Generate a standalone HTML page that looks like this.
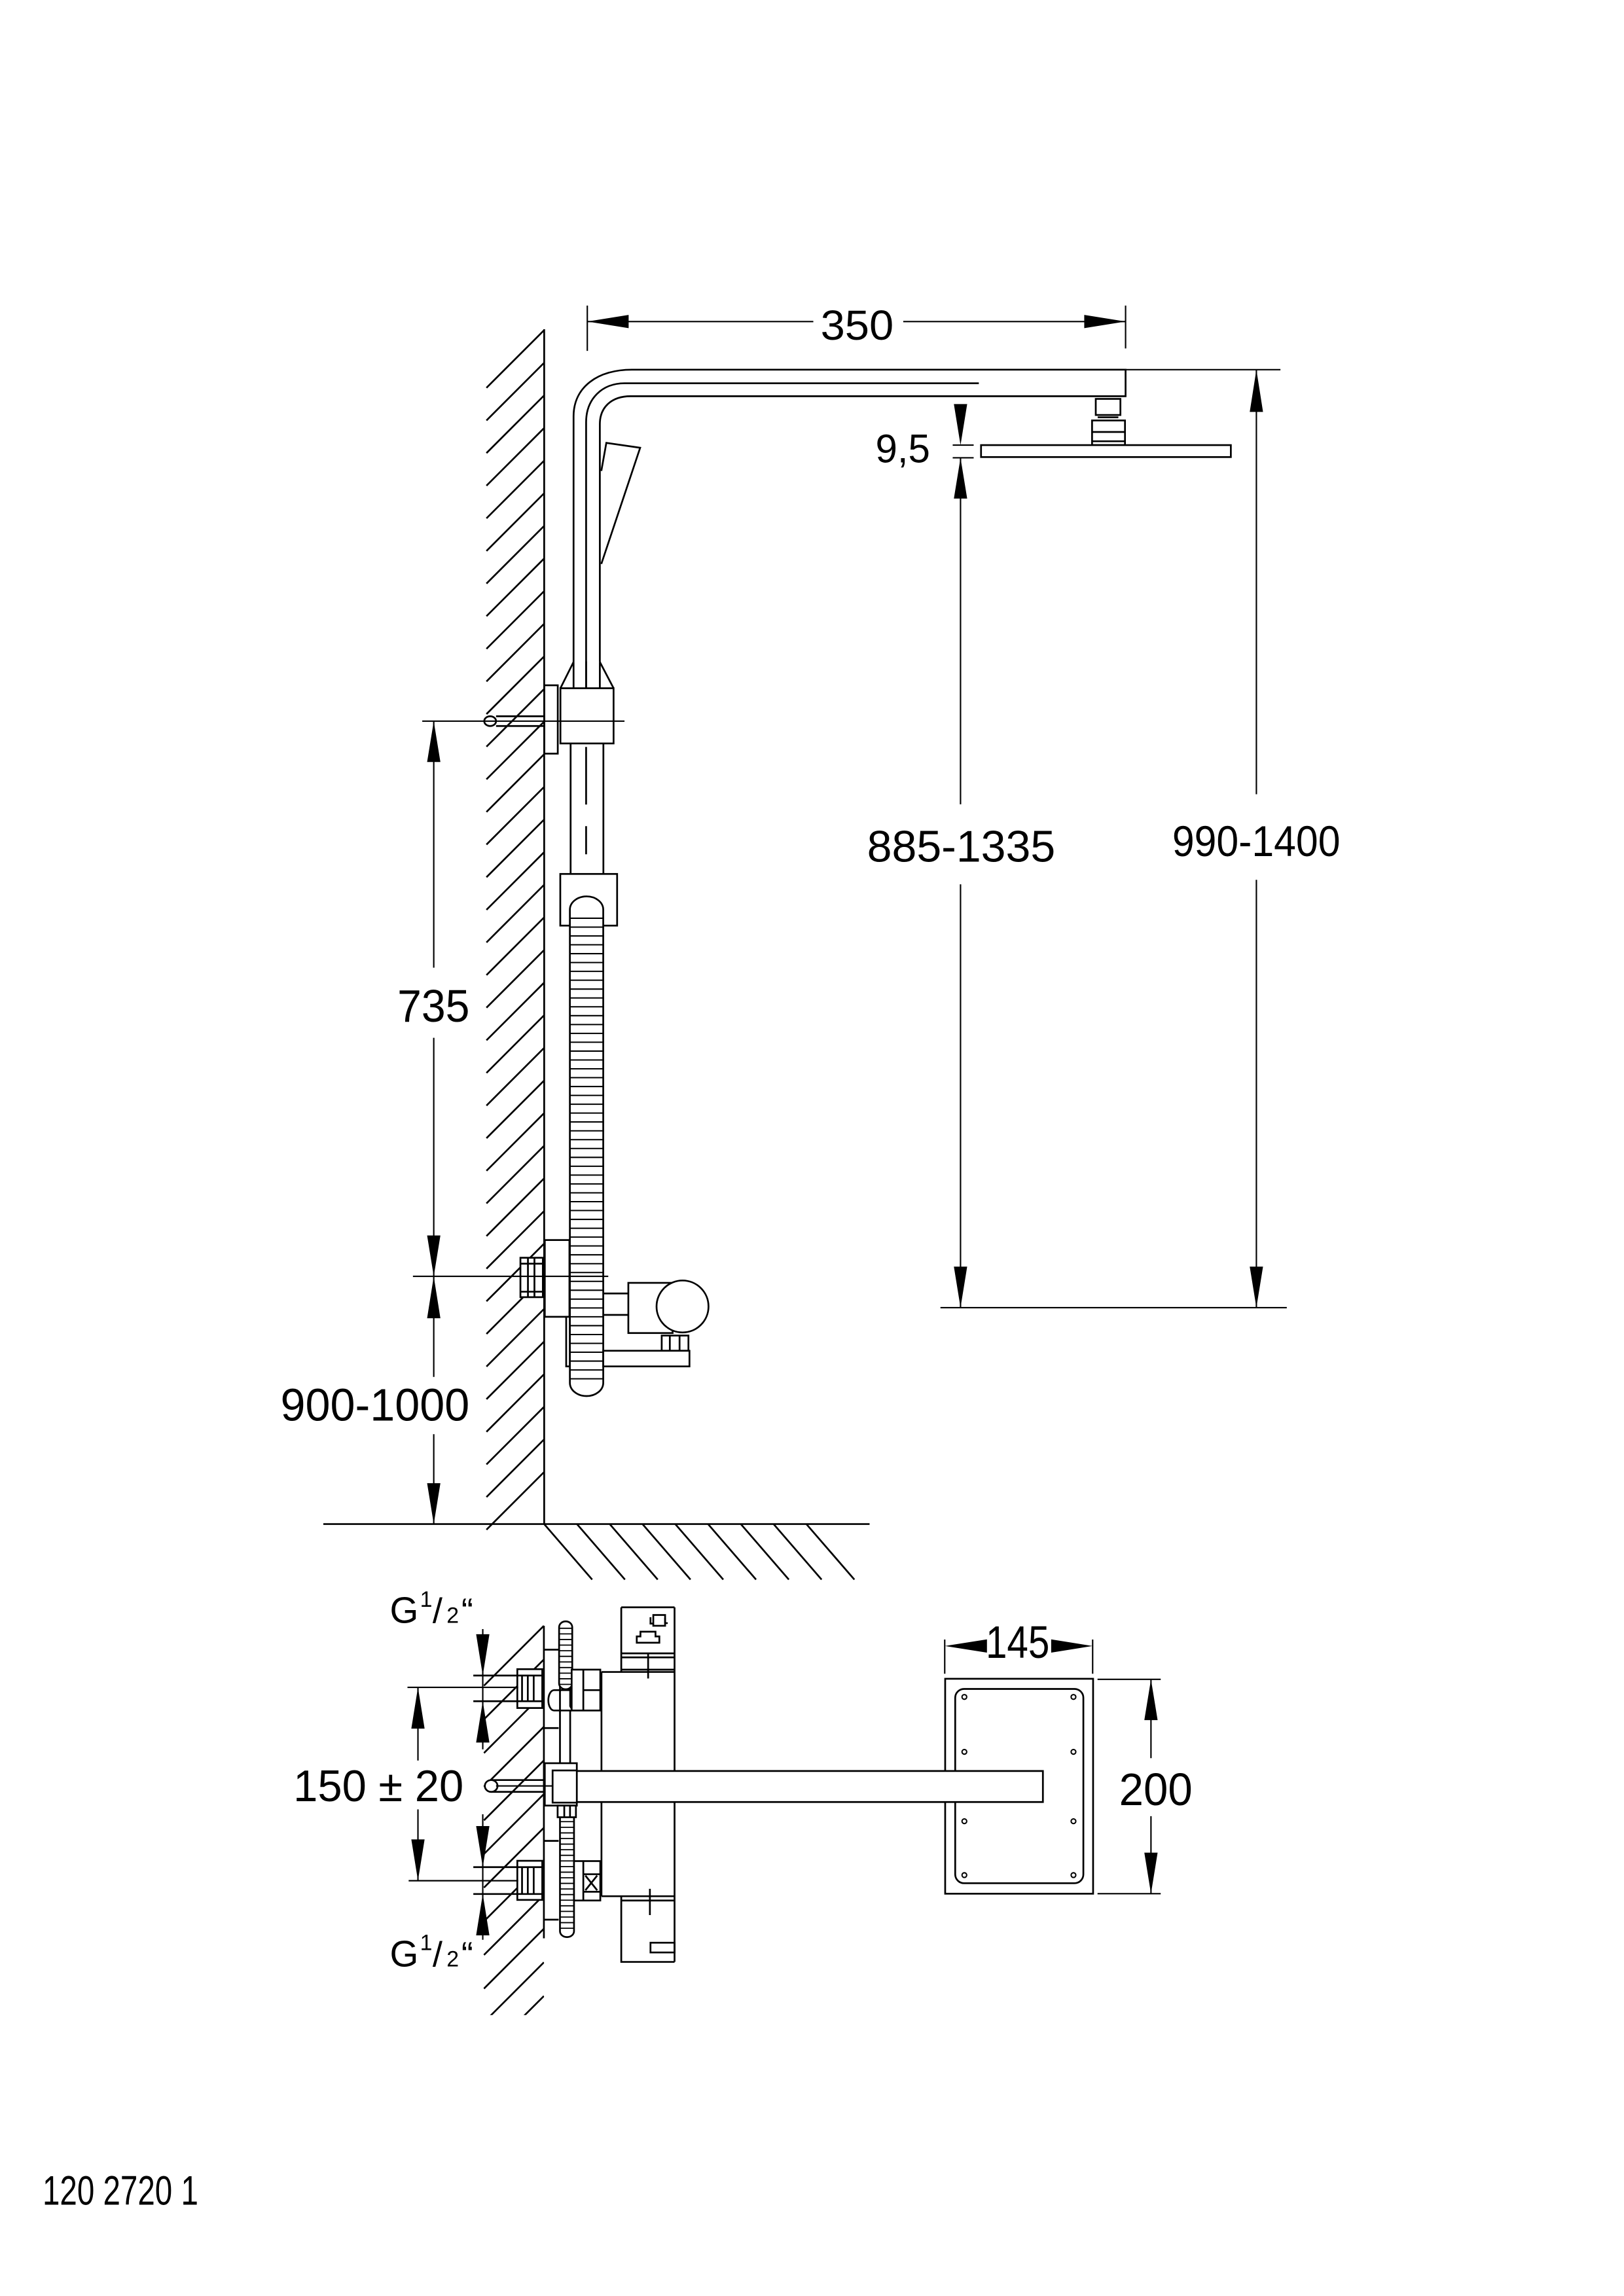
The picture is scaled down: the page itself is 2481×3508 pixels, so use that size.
<!DOCTYPE html>
<html><head><meta charset="utf-8"><style>
html,body{margin:0;padding:0;background:#fff;}
svg{display:block;}
text{font-family:"Liberation Sans",sans-serif;fill:#000;}
</style></head><body>
<svg xmlns="http://www.w3.org/2000/svg" width="2481" height="3508" viewBox="0 0 1100 1555.3">
<defs>
<clipPath id="lc"><rect x="327.5" y="1101" width="41" height="264"/></clipPath>
</defs>
<rect x="0" y="0" width="1100" height="1555.3" fill="#fff"/>
<g fill="none" stroke="#000" stroke-width="1.2">
<path d="M368.5,223.7l-39,39M368.5,245.8l-39,39M368.5,267.9l-39,39M368.5,290l-39,39M368.5,312.1l-39,39M368.5,334.2l-39,39M368.5,356.3l-39,39M368.5,378.4l-39,39M368.5,400.5l-39,39M368.5,422.6l-39,39M368.5,444.7l-39,39M368.5,466.8l-39,39M368.5,488.9l-39,39M368.5,511l-39,39M368.5,533.1l-39,39M368.5,555.2l-39,39M368.5,577.3l-39,39M368.5,599.4l-39,39M368.5,621.5l-39,39M368.5,643.6l-39,39M368.5,665.7l-39,39M368.5,687.8l-39,39M368.5,709.9l-39,39M368.5,732l-39,39M368.5,754.1l-39,39M368.5,776.2l-39,39M368.5,798.3l-39,39M368.5,820.4l-39,39M368.5,842.5l-39,39M368.5,864.6l-39,39M368.5,886.7l-39,39M368.5,908.8l-39,39M368.5,930.9l-39,39M368.5,953l-39,39M368.5,975.1l-39,39M368.5,997.2l-39,39"/>
<path d="M368.6,1032.4l32.5,37.6M390.8,1032.4l32.5,37.6M413,1032.4l32.5,37.6M435.2,1032.4l32.5,37.6M457.4,1032.4l32.5,37.6M479.6,1032.4l32.5,37.6M501.8,1032.4l32.5,37.6M524,1032.4l32.5,37.6M546.2,1032.4l32.5,37.6"/>
<path d="M368.6,223V1032.4M219,1032.4H589"/>

<path d="M388.5,448.4V282C388.5,262 405,250.4 428,250.4H762.4V268.4H427.7C414,268.2 406.3,276 406.3,287.3V448.4"/>
<path d="M397,466V286C397,270 408,259.6 423,259.6H663"/>
<path d="M407.3,319L410.7,300L433.6,303.3L407.3,382"/>
<path d="M388.5,448.4L379.6,466.2M406.3,448.4L415.6,466.2"/>
<rect x="379.6" y="466.2" width="36" height="37.4" fill="#fff"/>
<path d="M388.5,466.2V448.4M397,466.2V448M406.3,466.2V448.4"/>
<rect x="368.7" y="464.2" width="9.1" height="46.3" fill="#fff"/>
<path d="M336,485.2H368.7M336,491.8H368.7"/>
<ellipse cx="332" cy="488.5" rx="4" ry="3.3" fill="#fff"/>
<path d="M386.5,503.6V592M408.7,503.6V592"/>
<path d="M397,506V545M397,559.6V578.7"/>
<rect x="379.5" y="592" width="38.5" height="35" fill="#fff"/>
<rect x="369" y="840" width="16.7" height="52" fill="#fff"/>
<rect x="383.5" y="892" width="2.5" height="33.6" fill="#fff"/>
<rect x="352.5" y="852" width="15.2" height="26.7" fill="#fff"/>
<path d="M357.6,852V878.7M362,852V878.7M352.5,856H367.7M352.5,875H367.7"/>
<rect x="386" y="607.2" width="22.6" height="338.5" rx="11.3" ry="9" fill="#fff"/>
<path stroke-width="0.9" d="M386,622H408.6M386,628H408.6M386,634H408.6M386,640H408.6M386,646H408.6M386,652H408.6M386,658H408.6M386,664H408.6M386,670H408.6M386,676H408.6M386,682H408.6M386,688H408.6M386,694H408.6M386,700H408.6M386,706H408.6M386,712H408.6M386,718H408.6M386,724H408.6M386,730H408.6M386,736H408.6M386,742H408.6M386,748H408.6M386,754H408.6M386,760H408.6M386,766H408.6M386,772H408.6M386,778H408.6M386,784H408.6M386,790H408.6M386,796H408.6M386,802H408.6M386,808H408.6M386,814H408.6M386,820H408.6M386,826H408.6M386,832H408.6M386,838H408.6M386,844H408.6M386,850H408.6M386,856H408.6M386,862H408.6M386,868H408.6M386,874H408.6M386,880H408.6M386,886H408.6M386,892H408.6M386,898H408.6M386,904H408.6M386,910H408.6M386,916H408.6M386,922H408.6M386,928H408.6M386,934H408.6"/>
<path d="M408.6,876.2H425.6M408.6,890.7H425.6"/>
<rect x="425.6" y="869" width="30" height="34" fill="#fff"/>
<rect x="448.2" y="904.7" width="18.1" height="10.3" fill="#fff"/>
<path d="M453.7,904.7V915M460.3,904.7V915"/>
<rect x="408.6" y="915" width="58.4" height="10.6" fill="#fff"/>
<circle cx="462.3" cy="885" r="17.6" fill="#fff"/>

<rect x="742.2" y="270.2" width="16.7" height="10.9"/>
<path d="M743.5,282.7H757.5"/>
<rect x="739.7" y="284.8" width="22.3" height="16.7"/>
<path d="M739.7,292.6H762M739.7,298.9H762"/>
<rect x="664.5" y="301.5" width="169.2" height="8.1" fill="#fff"/>
</g>

<g fill="none" stroke="#000" stroke-width="0.95">
<path d="M397.8,207V237.7M762.4,207V236M397.8,217.8H550.9M611.8,217.8H762.4"/>
<path d="M762.4,250.4H867.3M637,885.8H871.6"/>
<path d="M645.3,301.5H659.5M645.3,310.1H659.5M650.6,310.1V544.8M650.6,599V885.8"/>
<path d="M851,250.4V538M851,596V885.8"/>
<path d="M286,488.5H423M279.7,864.6H412"/>
<path d="M293.8,488.5V655.5M293.8,703V864.6M293.8,864.6V932.7M293.8,971.5V1032.4"/>
</g>
<g fill="#000" stroke="none">
<polygon points="397.8,217.8 425.8,213.3 425.8,222.3"/>
<polygon points="762.4,217.8 734.4,213.3 734.4,222.3"/>
<polygon points="650.6,301.5 646.1,273.7 655.1,273.7"/>
<polygon points="650.6,310.1 646.1,337.7 655.1,337.7"/>
<polygon points="650.6,885.8 646.1,858 655.1,858"/>
<polygon points="851,250.4 846.5,279 855.5,279"/>
<polygon points="851,885.8 846.5,858 855.5,858"/>
<polygon points="293.8,488.5 289.3,516.2 298.3,516.2"/>
<polygon points="293.8,864.6 289.3,836.9 298.3,836.9"/>
<polygon points="293.8,864.6 289.3,893 298.3,893"/>
<polygon points="293.8,1032.4 289.3,1004.7 298.3,1004.7"/>
</g>
<text x="555.8" y="230" font-size="28.5" textLength="49.5" lengthAdjust="spacingAndGlyphs">350</text>
<text x="593" y="313.3" font-size="27" textLength="37" lengthAdjust="spacingAndGlyphs">9,5</text>
<text x="587.3" y="583.7" font-size="30" textLength="127.5" lengthAdjust="spacingAndGlyphs">885-1335</text>
<text x="794" y="580" font-size="29" textLength="113.8" lengthAdjust="spacingAndGlyphs">990-1400</text>
<text x="269.2" y="692" font-size="31" textLength="48.9" lengthAdjust="spacingAndGlyphs">735</text>
<text x="190" y="962.4" font-size="31" textLength="128" lengthAdjust="spacingAndGlyphs">900-1000</text>

<g fill="none" stroke="#000" stroke-width="1.2">
<g clip-path="url(#lc)">
<path d="M368.4,1101.3l-40.6,40.6M368.4,1124.1l-40.6,40.6M368.4,1146.9l-40.6,40.6M368.4,1169.7l-40.6,40.6M368.4,1192.5l-40.6,40.6M368.4,1215.3l-40.6,40.6M368.4,1238.1l-40.6,40.6M368.4,1260.9l-40.6,40.6M368.4,1283.7l-40.6,40.6M368.4,1306.5l-40.6,40.6M368.4,1329.3l-40.6,40.6M368.4,1352.1l-40.6,40.6"/>
</g>
<path d="M368.4,1101.3V1313"/>
<path d="M368.6,1117.5H378.4M368.6,1170.6H378.4M368.6,1247H378.4M368.6,1300.4H378.4"/>
<path d="M320.6,1135H350.4M320.6,1152.4H350.4M320.6,1264.8H350.4M320.6,1283H350.4"/>
<rect x="350.4" y="1130.7" width="16.9" height="26.3" fill="#fff"/>
<path d="M350.4,1135H367.3M350.4,1152.4H367.3M353.6,1135V1152.4M357.5,1135V1152.4M361.5,1135V1152.4"/>
<rect x="350.4" y="1260.5" width="16.9" height="26.5" fill="#fff"/>
<path d="M350.4,1264.8H367.3M350.4,1283H367.3M353.6,1264.8V1283M357.5,1264.8V1283M361.5,1264.8V1283"/>
<path d="M332.7,1205.8H369M332.7,1213.8H369"/>
<ellipse cx="332.7" cy="1209.8" rx="4.3" ry="4" fill="#fff"/>
<path d="M407.4,1132.6V1284.5M456.9,1088.8V1329M420.8,1088.8V1132.6H456.9M420.8,1088.8H456.9M420.8,1120H456.9M420.8,1122.7H456.9M420.8,1131H456.9M407.4,1132.6H420.8M439,1120V1137"/>
<path d="M407.4,1284.5H456.9M420.8,1287.4H456.9M420.8,1284.5V1329H456.9M440.2,1279.5V1297.3"/>
<rect x="440.6" y="1316" width="16.3" height="6.6"/>
<rect x="442.5" y="1094" width="8" height="7.3"/>
<path d="M440.6,1095.5V1099.8H442.5M450.5,1096V1099.5H452.3"/>
<path d="M431.3,1112.8V1108.5H433.8V1105.3H444V1108.5H446.6V1112.8Z"/>
<path d="M379.3,1141V1194.4M386.2,1141V1194.4"/>
<rect x="378.7" y="1098.3" width="8.9" height="46" rx="4.4" ry="4" fill="#fff"/>
<path stroke-width="0.8" d="M378.7,1103H387.6M378.7,1106.8H387.6M378.7,1110.6H387.6M378.7,1114.4H387.6M378.7,1118.2H387.6M378.7,1122H387.6M378.7,1125.8H387.6M378.7,1129.6H387.6M378.7,1133.4H387.6M378.7,1137.2H387.6M378.7,1141H387.6"/>
<rect x="379.3" y="1228" width="9.5" height="84.2" rx="4.7" ry="4" fill="#fff"/>
<path stroke-width="0.8" d="M379.3,1234H388.8M379.3,1237.8H388.8M379.3,1241.6H388.8M379.3,1245.4H388.8M379.3,1249.2H388.8M379.3,1253H388.8M379.3,1256.8H388.8M379.3,1260.6H388.8M379.3,1264.4H388.8M379.3,1268.2H388.8M379.3,1272H388.8M379.3,1275.8H388.8M379.3,1279.6H388.8M379.3,1283.4H388.8M379.3,1287.2H388.8M379.3,1291H388.8M379.3,1294.8H388.8M379.3,1298.6H388.8M379.3,1302.4H388.8M379.3,1306.2H388.8"/>
<path d="M379.3,1144.9H375.3A3.9,6.9 0 0 0 375.3,1158.7H387.2" fill="#fff"/>
<path d="M379.3,1144.9V1158.7"/>
<rect x="387.2" y="1131" width="19.4" height="27.7" fill="#fff"/>
<path d="M395.1,1131V1158.7M395.1,1144.9H406.6M387.2,1144.9H379.3"/>
<rect x="388.8" y="1260.7" width="17.8" height="26.7" fill="#fff"/>
<path d="M395.1,1260.7V1287.4M395.1,1269.6H406.6M395.1,1281.5H406.6M396.5,1270.5L404.5,1280.5M404.5,1270.5L396.5,1280.5"/>
<rect x="369" y="1194.4" width="21.7" height="28.7" fill="#fff"/>
<rect x="377.7" y="1223.1" width="12.4" height="7.9" fill="#fff"/>
<path d="M382.2,1223.1V1231M386.1,1223.1V1231"/>
<rect x="640.2" y="1137.2" width="100.2" height="145.6"/>
<rect x="647" y="1144.1" width="86.8" height="131.6" rx="6" ry="6"/>
<g stroke-width="0.9">
<circle cx="653.2" cy="1149.5" r="1.6"/><circle cx="727.1" cy="1149.5" r="1.6"/>
<circle cx="653.2" cy="1186.7" r="1.6"/><circle cx="727.1" cy="1186.7" r="1.6"/>
<circle cx="653.2" cy="1233.7" r="1.6"/><circle cx="727.1" cy="1233.7" r="1.6"/>
<circle cx="653.2" cy="1270.2" r="1.6"/><circle cx="727.1" cy="1270.2" r="1.6"/>
</g>
<path d="M390.7,1199.7H706.4V1220.7H390.7" fill="#fff"/>
<rect x="374.3" y="1199.3" width="16.4" height="21.8" fill="#fff"/>
<path d="M336,1209.8H374.3" stroke-width="0.9"/>
</g>
<g fill="none" stroke="#000" stroke-width="0.95">
<path d="M327,1103.5V1185M327,1229V1314"/>
<path d="M276,1143H351M276.8,1274H351M283.1,1143V1192.6M283.1,1225.7V1274"/>
<path d="M639.9,1110.6V1133.8M740.1,1110.6V1133.8"/>
<path d="M743.4,1137.6H786.2M743.4,1282.8H786.2M779.6,1137.6V1191M779.6,1230.3V1282.8"/>
</g>
<g fill="#000">
<polygon points="327,1135 322.5,1107 331.5,1107"/>
<polygon points="327,1152.4 322.5,1180.4 331.5,1180.4"/>
<polygon points="327,1264.8 322.5,1237 331.5,1237"/>
<polygon points="327,1283 322.5,1311 331.5,1311"/>
<polygon points="283.1,1143 278.6,1171 287.6,1171"/>
<polygon points="283.1,1274 278.6,1246 287.6,1246"/>
<polygon points="640,1115 668.5,1110.5 668.5,1119.5"/>
<polygon points="740,1115 712,1110.5 712,1119.5"/>
<polygon points="779.6,1137.6 775.1,1165.2 784.1,1165.2"/>
<polygon points="779.6,1282.8 775.1,1255 784.1,1255"/>
</g>
<text x="667.7" y="1123" font-size="31" textLength="43.2" lengthAdjust="spacingAndGlyphs">145</text>
<text x="758" y="1222.9" font-size="31" textLength="49.7" lengthAdjust="spacingAndGlyphs">200</text>
<text x="198.7" y="1220.1" font-size="30" textLength="115.3" lengthAdjust="spacingAndGlyphs">150 ± 20</text>
<text x="264" y="1099.3" font-size="25">G</text>
<text x="284.5" y="1088.4" font-size="15">1</text>
<text x="293" y="1099.3" font-size="24">/</text>
<text x="302.5" y="1099.3" font-size="15">2</text>
<text x="312.5" y="1099.3" font-size="24">“</text>
<text x="264" y="1332" font-size="25">G</text>
<text x="284.5" y="1321.1" font-size="15">1</text>
<text x="293" y="1332" font-size="24">/</text>
<text x="302.5" y="1332" font-size="15">2</text>
<text x="312.5" y="1332" font-size="24">“</text>
<text x="28.8" y="1493.5" font-size="28" textLength="105.5" lengthAdjust="spacingAndGlyphs">120 2720 1</text>
</svg>
</body></html>
